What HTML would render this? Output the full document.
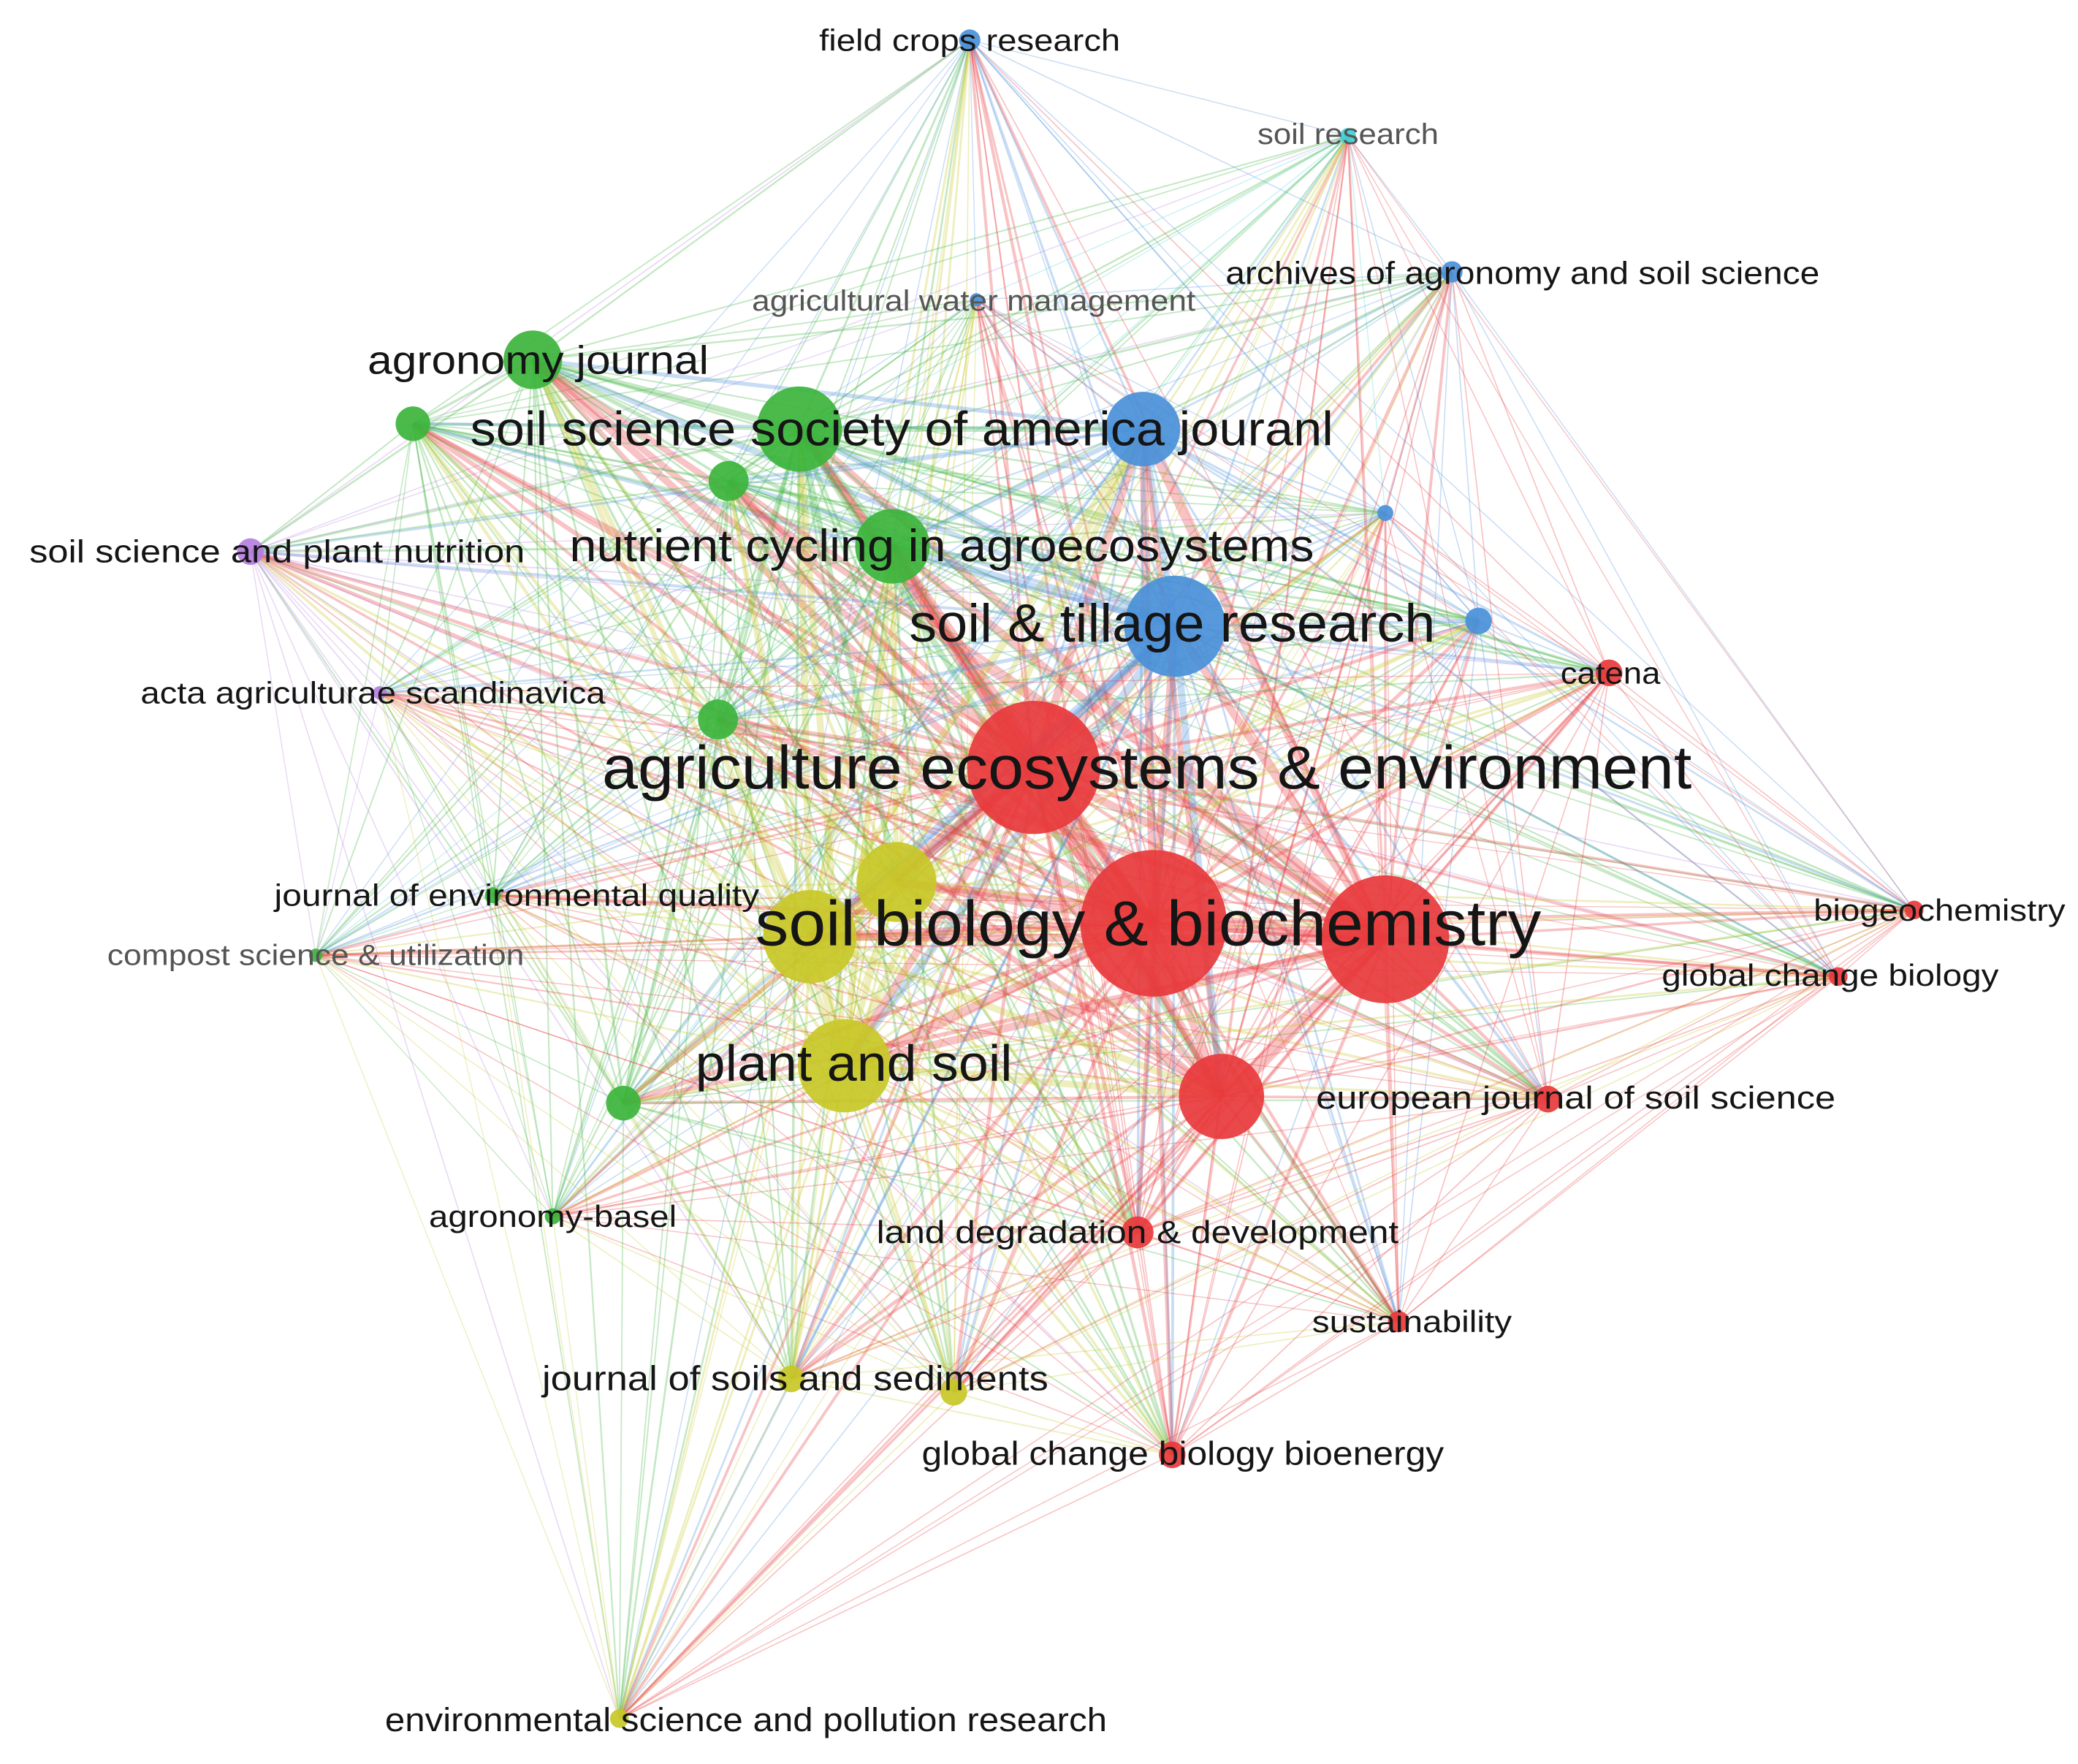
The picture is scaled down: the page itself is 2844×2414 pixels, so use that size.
<!DOCTYPE html>
<html><head><meta charset="utf-8">
<style>
html,body{margin:0;padding:0;background:#fff;}
svg{display:block;}
text{font-family:"Liberation Sans",sans-serif;fill:#151515;dominant-baseline:central;text-anchor:middle;}
.g{fill:#555;}
</style></head>
<body>
<svg id="s" width="2844" height="2414" viewBox="0 0 1560 1324" xmlns="http://www.w3.org/2000/svg">
<rect width="1560" height="1324" fill="#fff"/>
<g id="edges"></g>
<g id="nodes"></g>
<g id="labels">
<text x="728" y="30" font-size="23" textLength="226" lengthAdjust="spacingAndGlyphs">field crops research</text>
<text x="1012" y="101" font-size="22" class="g" textLength="136" lengthAdjust="spacingAndGlyphs">soil research</text>
<text x="1143" y="205" font-size="24" textLength="446" lengthAdjust="spacingAndGlyphs">archives of agronomy and soil science</text>
<text x="731" y="226" font-size="22" class="g" textLength="333" lengthAdjust="spacingAndGlyphs">agricultural water management</text>
<text x="404" y="270" font-size="30" textLength="256" lengthAdjust="spacingAndGlyphs">agronomy journal</text>
<text x="677" y="322" font-size="36" textLength="648" lengthAdjust="spacingAndGlyphs">soil science society of america jouranl</text>
<text x="208" y="414" font-size="24" textLength="372" lengthAdjust="spacingAndGlyphs">soil science and plant nutrition</text>
<text x="707" y="410" font-size="34" textLength="559" lengthAdjust="spacingAndGlyphs">nutrient cycling in agroecosystems</text>
<text x="880" y="468" font-size="40" textLength="395" lengthAdjust="spacingAndGlyphs">soil &amp; tillage research</text>
<text x="1209" y="505" font-size="23" textLength="75" lengthAdjust="spacingAndGlyphs">catena</text>
<text x="280" y="520" font-size="23" textLength="349" lengthAdjust="spacingAndGlyphs">acta agriculturae scandinavica</text>
<text x="861" y="576" font-size="46" textLength="818" lengthAdjust="spacingAndGlyphs">agriculture ecosystems &amp; environment</text>
<text x="388" y="672" font-size="23" textLength="364" lengthAdjust="spacingAndGlyphs">journal of environmental quality</text>
<text x="862" y="693" font-size="48" textLength="590" lengthAdjust="spacingAndGlyphs">soil biology &amp; biochemistry</text>
<text x="237" y="717" font-size="22" class="g" textLength="313" lengthAdjust="spacingAndGlyphs">compost science &amp; utilization</text>
<text x="1456" y="683" font-size="23" textLength="189" lengthAdjust="spacingAndGlyphs">biogeochemistry</text>
<text x="1374" y="732" font-size="23" textLength="253" lengthAdjust="spacingAndGlyphs">global change biology</text>
<text x="641" y="798" font-size="38" textLength="238" lengthAdjust="spacingAndGlyphs">plant and soil</text>
<text x="1183" y="824" font-size="24" textLength="390" lengthAdjust="spacingAndGlyphs">european journal of soil science</text>
<text x="415" y="913" font-size="23" textLength="186" lengthAdjust="spacingAndGlyphs">agronomy-basel</text>
<text x="854" y="925" font-size="24" textLength="392" lengthAdjust="spacingAndGlyphs">land degradation &amp; development</text>
<text x="1060" y="992" font-size="23" textLength="150" lengthAdjust="spacingAndGlyphs">sustainability</text>
<text x="597" y="1035" font-size="26" textLength="380" lengthAdjust="spacingAndGlyphs">journal of soils and sediments</text>
<text x="888" y="1091" font-size="25" textLength="392" lengthAdjust="spacingAndGlyphs">global change biology bioenergy</text>
<text x="560" y="1291" font-size="25" textLength="542" lengthAdjust="spacingAndGlyphs">environmental science and pollution research</text>
</g>
</svg>
<script>
var C={b:"#4a90d9",c:"#3fd0d8",g:"#3cb43c",p:"#b57ee0",r:"#e8393c",y:"#c8c828"};
var N=[
[728,30,8,"b"],[1012,102,6,"c"],[1090,204,8,"b"],[733,225,5,"b"],
[400,270,22,"g"],[310,318,13,"g"],[600,322,32,"g"],[858,322,28,"b"],
[547,361,15,"g"],[188,414,10,"p"],[670,410,28,"g"],[1040,385,6,"b"],
[882,470,38,"b"],[1110,466,10,"b"],[1208,505,10,"r"],[285,520,5,"p"],
[539,540,15,"g"],[776,576,50,"r"],[673,662,30,"y"],[370,672,6,"g"],
[608,703,35,"y"],[866,693,55,"r"],[1040,705,48,"r"],[237,717,5,"g"],
[1437,683,7,"r"],[1380,733,7,"r"],[634,800,35,"y"],[468,828,13,"g"],
[917,823,32,"r"],[1162,825,10,"r"],[415,913,6,"g"],[854,925,12,"r"],
[1050,992,8,"r"],[594,1035,10,"y"],[716,1045,10,"y"],[880,1092,10,"r"],
[465,1290,7,"y"]];
var ns="http://www.w3.org/2000/svg",E=document.getElementById("edges"),G=document.getElementById("nodes");
for(var i=0;i<N.length;i++)for(var j=i+1;j<N.length;j++){
 var a=N[i],b=N[j];
 var s=a[2]>=b[2]?a:b;
 var w=Math.min(6,(a[2]*b[2])/250+0.6);
 var l=document.createElementNS(ns,"line");
 l.setAttribute("x1",a[0]);l.setAttribute("y1",a[1]);l.setAttribute("x2",b[0]);l.setAttribute("y2",b[1]);
 l.setAttribute("stroke",C[s[3]]);l.setAttribute("stroke-width",w);l.setAttribute("stroke-opacity",0.3);
 E.appendChild(l);}
N.forEach(function(n){var c=document.createElementNS(ns,"circle");
 c.setAttribute("cx",n[0]);c.setAttribute("cy",n[1]);c.setAttribute("r",n[2]);
 c.setAttribute("fill",C[n[3]]);c.setAttribute("fill-opacity",0.92);G.appendChild(c);});
</script>
</body></html>
